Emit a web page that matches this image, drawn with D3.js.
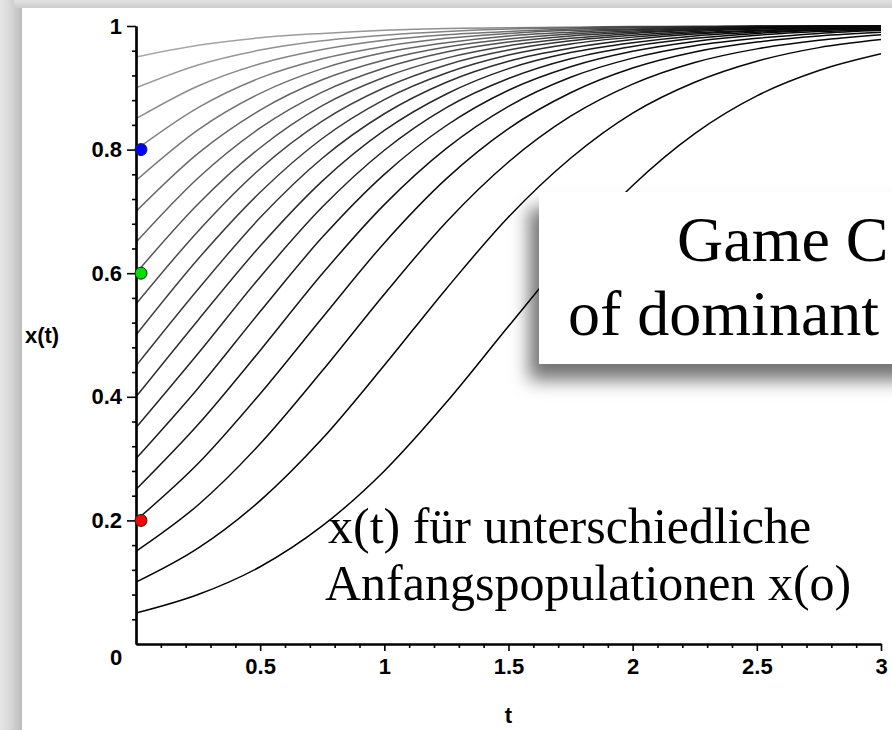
<!DOCTYPE html>
<html>
<head>
<meta charset="utf-8">
<script src="https://cdn.jsdelivr.net/npm/d3@7"></script>
<style>
  body { margin: 0; background: #fff; }
  svg { display: block; }
  .tick text { font-family: "Liberation Sans", Arial, sans-serif; font-weight: bold; font-size: 22px; fill: #000; }
  .axis path, .axis line { stroke: #000; }
  .axis path { stroke-width: 2.2; }
  .axis line { stroke-width: 1.6; }
  .label { font-family: "Liberation Sans", Arial, sans-serif; font-weight: bold; font-size: 22px; }
  .serif { font-family: "Liberation Serif", "Times New Roman", serif; fill: #000; }
</style>
</head>
<body>
<svg width="892" height="730"></svg>
<script>
// time steps and read-off curve values x(t), one array per start value x(0)
const tValues = [0, 0.25, 0.5, 0.75, 1, 1.25, 1.5, 1.75, 2, 2.25, 2.5, 2.75, 3]

const c05 = [0.05, 0.080, 0.125, 0.191, 0.280, 0.391, 0.514, 0.635, 0.742, 0.826, 0.887, 0.928, 0.955]
const c10 = [0.10, 0.155, 0.232, 0.332, 0.451, 0.575, 0.691, 0.786, 0.859, 0.909, 0.943, 0.965, 0.978]
const c15 = [0.15, 0.225, 0.324, 0.442, 0.566, 0.683, 0.780, 0.854, 0.906, 0.941, 0.963, 0.977, 0.986]
const c20 = [0.20, 0.292, 0.405, 0.528, 0.649, 0.753, 0.834, 0.892, 0.932, 0.958, 0.974, 0.984, 0.990]
const c25 = [0.25, 0.355, 0.475, 0.599, 0.711, 0.802, 0.870, 0.917, 0.948, 0.968, 0.980, 0.988, 0.993]
const c30 = [0.30, 0.414, 0.538, 0.658, 0.760, 0.839, 0.896, 0.934, 0.959, 0.975, 0.985, 0.991, 0.994]
const c35 = [0.35, 0.470, 0.594, 0.707, 0.799, 0.868, 0.915, 0.947, 0.967, 0.980, 0.988, 0.993, 0.995]
const c40 = [0.40, 0.524, 0.644, 0.749, 0.831, 0.890, 0.931, 0.957, 0.973, 0.984, 0.990, 0.994, 0.996]
const c45 = [0.45, 0.574, 0.690, 0.786, 0.858, 0.909, 0.943, 0.964, 0.978, 0.987, 0.992, 0.995, 0.997]
const c50 = [0.50, 0.623, 0.731, 0.818, 0.881, 0.924, 0.953, 0.971, 0.982, 0.989, 0.993, 0.996, 0.998]
const c55 = [0.55, 0.668, 0.769, 0.846, 0.900, 0.937, 0.961, 0.976, 0.985, 0.991, 0.995, 0.997, 0.998]
const c60 = [0.60, 0.712, 0.803, 0.871, 0.917, 0.948, 0.968, 0.980, 0.988, 0.993, 0.996, 0.997, 0.998]
const c65 = [0.65, 0.754, 0.835, 0.893, 0.932, 0.958, 0.974, 0.984, 0.990, 0.994, 0.996, 0.998, 0.999]
const c70 = [0.70, 0.794, 0.864, 0.913, 0.945, 0.966, 0.979, 0.987, 0.992, 0.995, 0.997, 0.998, 0.999]
const c75 = [0.75, 0.832, 0.891, 0.931, 0.957, 0.973, 0.984, 0.990, 0.994, 0.996, 0.998, 0.999, 0.999]
const c80 = [0.80, 0.868, 0.916, 0.947, 0.967, 0.980, 0.988, 0.993, 0.995, 0.997, 0.998, 0.999, 0.999]
const c85 = [0.85, 0.903, 0.939, 0.962, 0.977, 0.986, 0.991, 0.995, 0.997, 0.998, 0.999, 0.999, 1.000]
const c90 = [0.90, 0.937, 0.961, 0.976, 0.985, 0.991, 0.995, 0.997, 0.998, 0.999, 0.999, 1.000, 1.000]
const c95 = [0.95, 0.969, 0.981, 0.988, 0.993, 0.996, 0.997, 0.998, 0.999, 0.999, 1.000, 1.000, 1.000]

const series = [c95, c90, c85, c80, c75, c70, c65, c60, c55, c50, c45, c40, c35, c30, c25, c20, c15, c10, c05]

// highlighted start populations
const markerStarts = [0.8, 0.6, 0.2]
const markerColors = ["#0000ff", "#00dd00", "#ff0000"]

const yTicks = [0.2, 0.4, 0.6, 0.8, 1]
const xTicks = [0.5, 1, 1.5, 2, 2.5, 3]
const yMinor = [0.04, 0.08, 0.12, 0.16, 0.24, 0.28, 0.32, 0.36, 0.44, 0.48, 0.52, 0.56, 0.64, 0.68, 0.72, 0.76, 0.84, 0.88, 0.92, 0.96]
const xMinor = [0.1, 0.2, 0.3, 0.4, 0.6, 0.7, 0.8, 0.9, 1.1, 1.2, 1.3, 1.4, 1.6, 1.7, 1.8, 1.9, 2.1, 2.2, 2.3, 2.4, 2.6, 2.7, 2.8, 2.9]

const boxLines = ["Game C", "of dominant"]
const noteLines = ["x(t) für unterschiedliche", "Anfangspopulationen x(o)"]

const svg = d3.select("svg")

const x = d3.scaleLinear()
    .domain([0, 3])
    .range([136, 881])

const y = d3.scaleLinear()
    .domain([0, 1])
    .range([644, 26])

// slide frame
const defs = svg.append("defs")
const leftGrad = defs.append("linearGradient").attr("id", "leftGrad")
leftGrad.append("stop").attr("offset", "0%").attr("stop-color", "#e6e6e6")
leftGrad.append("stop").attr("offset", "45%").attr("stop-color", "#d8d8d8")
leftGrad.append("stop").attr("offset", "100%").attr("stop-color", "#bcbcbc")
const topGrad = defs.append("linearGradient").attr("id", "topGrad")
    .attr("x1", 0).attr("x2", 0).attr("y1", 0).attr("y2", 1)
topGrad.append("stop").attr("offset", "0%").attr("stop-color", "#e2e2e2")
topGrad.append("stop").attr("offset", "100%").attr("stop-color", "#cdcdcd")

const shadow = defs.append("filter").attr("id", "shadow")
    .attr("x", "-20%").attr("y", "-20%").attr("width", "140%").attr("height", "160%")
shadow.append("feDropShadow")
    .attr("dx", -10).attr("dy", 16).attr("stdDeviation", 9)
    .attr("flood-color", "#000").attr("flood-opacity", 0.55)

// curve strokes: grey at the start, darkening toward the right
const shadeLevel = s => { return Math.round(170 * Math.pow((s[0] - 0.05) / 0.9, 1.4)) }
const grey = g => { return `rgb(${g},${g},${g})` }

const strokeGrads = defs.selectAll("linearGradient.curve")
    .data(series)
    .enter()
    .append("linearGradient")
    .attr("class", "curve")
    .attr("id", (d, i) => { return `curve${i}` })
    .attr("gradientUnits", "userSpaceOnUse")
    .attr("x1", x(0)).attr("x2", x(3)).attr("y1", 0).attr("y2", 0)
strokeGrads.append("stop").attr("offset", "0%").attr("stop-color", d => { return grey(shadeLevel(d)) })
strokeGrads.append("stop").attr("offset", "50%").attr("stop-color", d => { return grey(Math.round(shadeLevel(d) * 0.8)) })
strokeGrads.append("stop").attr("offset", "85%").attr("stop-color", "#080808")

svg.append("rect").attr("width", 892).attr("height", 730).attr("fill", "#e6e6e6")
svg.append("rect").attr("x", 0).attr("y", 0).attr("width", 22).attr("height", 730).attr("fill", "url(#leftGrad)")
svg.append("rect").attr("x", 14).attr("y", 0).attr("width", 878).attr("height", 8).attr("fill", "url(#topGrad)")
svg.append("rect").attr("x", 22).attr("y", 8).attr("width", 870).attr("height", 722).attr("fill", "#fff")

// curves, light ones first so darker curves lie on top
const line = d3.line()
    .x((d, i) => { return x(tValues[i]) })
    .y(d => { return y(d) })
    .curve(d3.curveMonotoneX)

svg.append("g")
    .selectAll("path")
    .data(series)
    .enter()
    .append("path")
    .attr("d", line)
    .attr("fill", "none")
    .attr("stroke", (d, i) => { return `url(#curve${i})` })
    .attr("stroke-width", 1.5)

// axes
svg.append("g")
    .attr("class", "axis")
    .attr("transform", `translate(${x(0)},0)`)
    .call(d3.axisLeft(y).tickValues(yMinor).tickSize(4).tickSizeOuter(0).tickFormat(""))

svg.append("g")
    .attr("class", "axis")
    .attr("transform", `translate(0,${y(0)})`)
    .call(d3.axisBottom(x).tickValues(xMinor).tickSize(4).tickSizeOuter(0).tickFormat(""))

svg.append("g")
    .attr("class", "axis")
    .attr("transform", `translate(${x(0)},0)`)
    .call(d3.axisLeft(y).tickValues(yTicks).tickSize(9).tickSizeOuter(0).tickPadding(5).tickFormat(d => String(d)))

svg.append("g")
    .attr("class", "axis")
    .attr("transform", `translate(0,${y(0)})`)
    .call(d3.axisBottom(x).tickValues(xTicks).tickSize(7).tickSizeOuter(0).tickPadding(7).tickFormat(d => String(d)))

svg.selectAll(".axis").attr("font-size", null).attr("font-family", null)

svg.append("text")
    .attr("class", "label")
    .attr("x", x(0) - 20)
    .attr("y", y(0) + 13)
    .attr("dy", "0.36em")
    .attr("text-anchor", "middle")
    .text("0")

svg.append("text")
    .attr("class", "label")
    .attr("x", 42)
    .attr("y", (y(0) + y(1)) / 2)
    .attr("dy", "0.36em")
    .attr("text-anchor", "middle")
    .text("x(t)")

svg.append("text")
    .attr("class", "label")
    .attr("x", (x(0) + x(3)) / 2)
    .attr("y", 715)
    .attr("dy", "0.36em")
    .attr("text-anchor", "middle")
    .text("t")

// coloured start points
svg.selectAll("circle.start")
    .data(markerStarts)
    .enter()
    .append("circle")
    .attr("class", "start")
    .attr("cx", x(0) + 5)
    .attr("cy", d => { return y(d) })
    .attr("r", 6)
    .attr("fill", (d, i) => { return markerColors[i] })
    .attr("stroke", "#222")
    .attr("stroke-width", 1)

// title box with shadow, running off the right edge
svg.append("rect")
    .attr("x", 539)
    .attr("y", 192)
    .attr("width", 420)
    .attr("height", 172)
    .attr("fill", "#fff")
    .attr("filter", "url(#shadow)")

svg.append("text")
    .attr("class", "serif")
    .attr("x", 677)
    .attr("y", 261)
    .attr("font-size", 64)
    .text(boxLines[0])

svg.append("text")
    .attr("class", "serif")
    .attr("x", 568)
    .attr("y", 335)
    .attr("font-size", 64)
    .text(boxLines[1])

svg.append("text")
    .attr("class", "serif")
    .attr("x", 328)
    .attr("y", 543)
    .attr("font-size", 50)
    .text(noteLines[0])

svg.append("text")
    .attr("class", "serif")
    .attr("x", 325)
    .attr("y", 600)
    .attr("font-size", 50)
    .text(noteLines[1])
</script>
</body>
</html>
